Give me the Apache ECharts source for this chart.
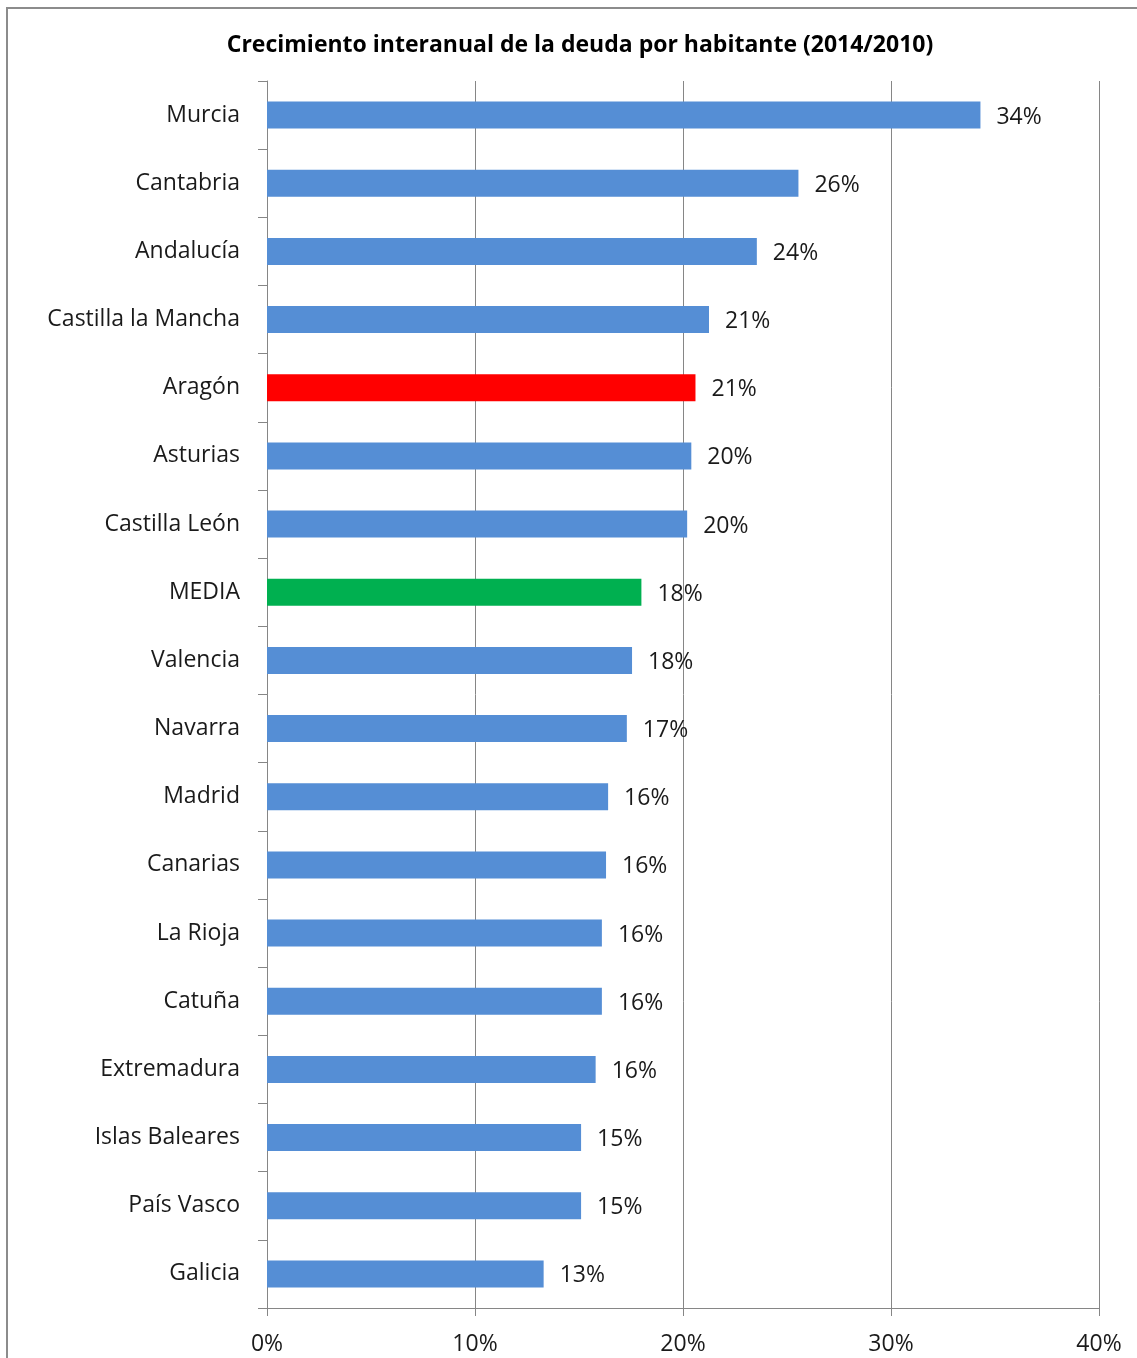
<!DOCTYPE html>
<html>
<head>
<meta charset="utf-8">
<script src="https://cdn.jsdelivr.net/npm/echarts@6/dist/echarts.min.js"></script>
<style>
  html, body { margin: 0; padding: 0; background: #fff; }
  #chart { width: 1137px; height: 1358px; }
</style>
</head>
<body>
<div id="chart"></div>
<script>
// regions, top to bottom as in the picture
const regiones = [
    'Murcia', 'Cantabria', 'Andalucía', 'Castilla la Mancha', 'Aragón', 'Asturias',
    'Castilla León', 'MEDIA', 'Valencia', 'Navarra', 'Madrid', 'Canarias',
    'La Rioja', 'Catuña', 'Extremadura', 'Islas Baleares', 'País Vasco', 'Galicia'
];
// growth in %
const crecimiento = [
    34.3, 25.55, 23.55, 21.25, 20.6, 20.4,
    20.2, 18.0, 17.55, 17.3, 16.4, 16.3,
    16.1, 16.1, 15.8, 15.1, 15.1, 13.3
];
const ticksX = [0, 10, 20, 30, 40];

const FONT = '"Open Sans"';
const AXIS_GRAY = '#868686';
const TEXT = '#1a1a1a';

const chartDom = document.getElementById('chart');
const myChart = echarts.init(chartDom);

function barColor(name) {
    if (name === 'Aragón') return '#ff0000';
    if (name === 'MEDIA') return '#00b050';
    return '#558ed5';
}

const option = {
    animation: false,
    textStyle: { fontFamily: FONT },
    title: {
        text: 'Crecimiento interanual de la deuda por habitante (2014/2010)',
        left: 575,
        top: 29,
        textAlign: 'center',
        textStyle: { fontFamily: FONT, fontWeight: 'bold', fontSize: 23, color: '#000' }
    },
    graphic: [{
        type: 'rect',
        shape: { x: 7, y: 8, width: 1300, height: 1500 },
        style: { fill: 'none', stroke: '#8c8c8c', lineWidth: 2 }
    }],
    grid: { left: 267, right: 38, top: 81, bottom: 50 },
    xAxis: {
        type: 'value',
        min: 0,
        max: 40,
        interval: 10,
        axisLine: { show: true, lineStyle: { color: AXIS_GRAY, width: 1 } },
        axisTick: { show: true, length: 8, lineStyle: { color: AXIS_GRAY } },
        splitLine: { show: true, lineStyle: { color: AXIS_GRAY, width: 1 } },
        axisLabel: {
            margin: 25,
            fontSize: 23,
            color: TEXT,
            fontFamily: FONT,
            formatter: v => ticksX.includes(v) ? v + '%' : ''
        }
    },
    yAxis: {
        type: 'category',
        inverse: true,
        data: regiones,
        axisLine: { show: true, lineStyle: { color: AXIS_GRAY, width: 1 } },
        axisTick: { show: true, length: 9, lineStyle: { color: AXIS_GRAY } },
        axisLabel: { margin: 27, fontSize: 23, color: TEXT, fontFamily: FONT, padding: [8, 0, 0, 0] }
    },
    series: [{
        type: 'bar',
        barWidth: 27,
        data: crecimiento.map((v, i) => ({
            value: v,
            itemStyle: { color: barColor(regiones[i]) }
        })),
        label: {
            show: true,
            position: 'right',
            distance: 16,
            offset: [0, 2],
            fontSize: 23,
            color: TEXT,
            fontFamily: FONT,
            formatter: p => Math.round(p.value) + '%'
        }
    }]
};

option && myChart.setOption(option);
</script>
</body>
</html>
